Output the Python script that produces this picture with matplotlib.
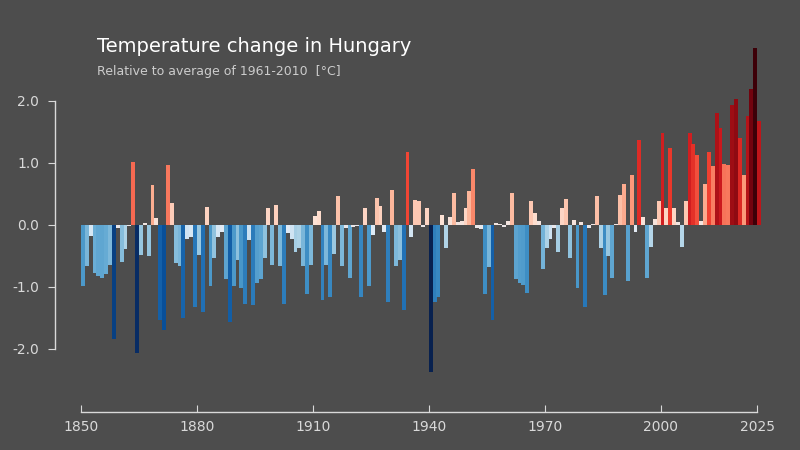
import numpy as np
import matplotlib.pyplot as plt
from matplotlib.colors import LinearSegmentedColormap, TwoSlopeNorm

# Annual anomalies 1850-2025 (deg C vs 1961-2010)
anom_1850_1893 = [-0.99, -0.67, -0.18, -0.77, -0.83, -0.86, -0.80, -0.65, -1.84, -0.05,
                  -0.60, -0.39, -0.02, 1.02, -2.06, -0.49, 0.03, -0.51, 0.64, 0.11,
                  -1.53, -1.69, 0.97, 0.35, -0.61, -0.67, -1.50, -0.22, -0.19, -1.32,
                  -0.48, -1.40, 0.29, -0.99, -0.53, -0.19, -0.11, -0.88, -1.56, -0.99,
                  -0.56, -1.02, -1.27, -0.24]
anom_1894_1939 = [-1.29, -0.93, -0.88, -0.54, 0.27, -0.65, 0.32, -0.66, -1.27, -0.13,
                  -0.22, -0.43, -0.38, -0.67, -1.11, -0.65, 0.15, 0.22, -1.21, -0.65,
                  -1.16, -0.47, 0.46, -0.66, -0.05, -0.85, -0.03, -0.02, -1.17, 0.27,
                  -0.99, -0.16, 0.43, 0.31, -0.12, -1.24, 0.56, -0.66, -0.56, -1.37,
                  1.17, -0.20, 0.40, 0.39, -0.03, 0.27]
anom_1940_1984 = [-2.37, -1.24, -1.16, 0.16, -0.37, 0.12, 0.52, 0.04, 0.07, 0.27,
                  0.55, 0.90, -0.05, -0.06, -1.11, -0.68, -1.53, 0.03, 0.02, -0.03,
                  0.06, 0.51, -0.88, -0.94, -0.97, -1.10, 0.39, 0.19, 0.06, -0.71,
                  -0.38, -0.23, -0.05, -0.43, 0.27, 0.41, -0.54, 0.08, -1.02, 0.05,
                  -1.32, -0.05, 0.02, 0.47, -0.38]
anom_1985_2025 = [-1.13, -0.50, -0.85, 0.02, 0.48, 0.66, -0.90, 0.80, -0.11, 1.37,
                  0.12, -0.85, -0.35, 0.10, 0.39, 1.49, 0.28, 1.24, 0.27, 0.04,
                  -0.35, 0.39, 1.49, 1.31, 1.13, 0.06, 0.66, 1.18, 0.95, 1.81,
                  1.56, 0.98, 0.97, 1.94, 2.03, 1.40, 0.81, 1.75, 2.19, 2.85,
                  1.67]

anomaly = np.array(anom_1850_1893 + anom_1894_1939 + anom_1940_1984 + anom_1985_2025)
years = np.arange(1850, 1850 + len(anomaly))

x_ticks = [1850, 1880, 1910, 1940, 1970, 2000, 2025]
y_ticks = [-2, -1, 0, 1, 2]

stripe_colors = ['#08214f', '#08306b', '#08519c', '#2171b5', '#4292c6', '#6baed6',
                 '#9ecae1', '#deebf7', '#fee0d2', '#fcbba1', '#fc9272', '#ef3b2c',
                 '#cb181d', '#a50f15', '#67000d', '#3d0008']
cmap = LinearSegmentedColormap.from_list('stripes', stripe_colors)
norm = TwoSlopeNorm(vmin=-2.3, vcenter=0, vmax=2.6)

bg = '#4d4d4d'
fg = '#d9d9d9'

fig = plt.figure(figsize=(8, 4.5), dpi=100, facecolor=bg)
ax = fig.add_axes([81 / 800, 38 / 450, 680 / 800, 373 / 450])
ax.set_facecolor(bg)

ax.bar(years, anomaly, width=1.02, align='edge', color=cmap(norm(anomaly)), linewidth=0)

ax.set_xlim(1850, 2026)
ax.set_ylim(-3.02, 3.0)

for side in ['top', 'right']:
    ax.spines[side].set_visible(False)
ax.spines['left'].set_position(('outward', 19))
ax.spines['left'].set_bounds(-2, 2)
ax.spines['bottom'].set_bounds(1850, 2025)
for side in ['left', 'bottom']:
    ax.spines[side].set_color(fg)
    ax.spines[side].set_linewidth(1.0)

ax.set_yticks(y_ticks)
ax.set_yticklabels([f'{v:.1f}' for v in y_ticks])
ax.set_xticks(x_ticks)
ax.tick_params(axis='y', colors=fg, direction='out', length=5, labelsize=10, pad=6)
ax.tick_params(axis='x', colors=fg, direction='in', length=5, labelsize=10, pad=6)

fig.text(97 / 800, 1 - 47 / 450, 'Temperature change in Hungary', color='white',
         fontsize=14, va='center', ha='left')
fig.text(97 / 800, 1 - 72 / 450, 'Relative to average of 1961-2010  [°C]', color='#cccccc',
         fontsize=9, va='center', ha='left')

fig.savefig('out.png', dpi=100, facecolor=bg)
